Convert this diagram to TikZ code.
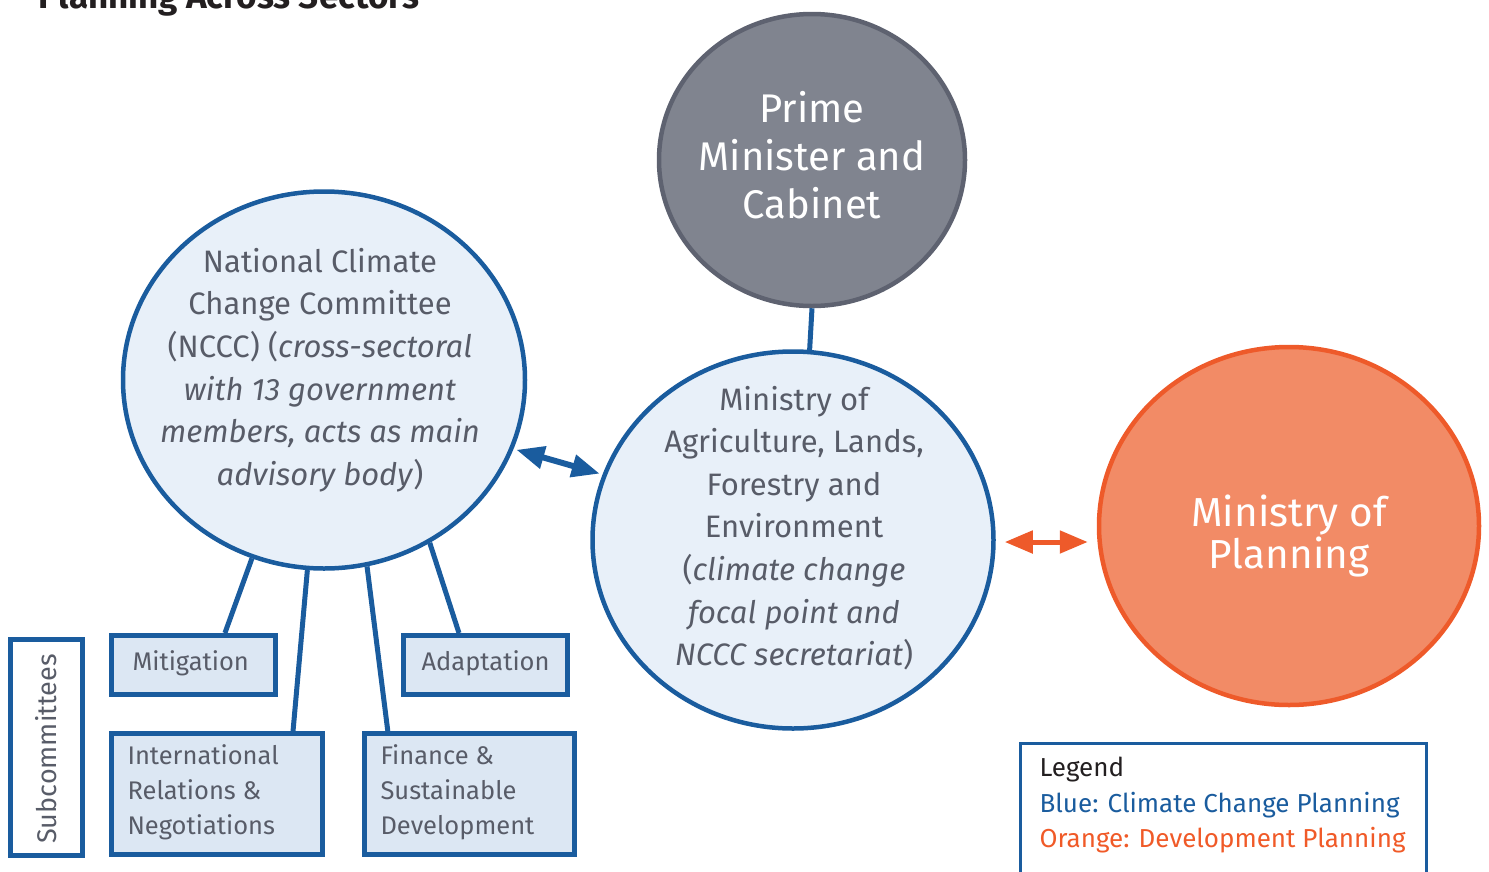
\documentclass[tikz,border=0pt]{standalone}
\usepackage{fontspec}
\setmainfont{Fira Sans}
\usetikzlibrary{shapes.geometric,arrows.meta,calc}
\definecolor{cblue}{RGB}{26,92,158}
\definecolor{cfill}{RGB}{232,240,249}
\definecolor{bfill}{RGB}{220,231,243}
\definecolor{tgray}{RGB}{88,92,104}
\definecolor{pmfill}{RGB}{128,132,143}
\definecolor{pmline}{RGB}{94,98,112}
\definecolor{ofill}{RGB}{242,139,102}
\definecolor{oline}{RGB}{238,90,42}
\definecolor{otext}{RGB}{240,90,40}
\definecolor{ttl}{RGB}{35,31,32}
\tikzset{
  bluecirc/.style={ellipse, draw=cblue, fill=cfill, line width=4.5pt, inner sep=0pt},
  subbox/.style={rectangle, draw=cblue, fill=bfill, line width=5pt, inner sep=0pt},
  link/.style={draw=cblue, line width=5pt},
  bigtxt/.style={text=tgray, align=center, font=\fontsize{31}{42.6}\selectfont},
  boxtxt/.style={text=tgray, align=left, anchor=west, font=\fontsize{25.5}{35}\selectfont},
  legtxt/.style={anchor=west, font=\fontsize{26}{35}\selectfont},
  barrow/.style={draw=cblue, line width=6pt, {Triangle[length=28pt,width=22pt]}-{Triangle[length=28pt,width=22pt]}},
  oarrow/.style={draw=oline, line width=5pt, {Triangle[length=28pt,width=22pt]}-{Triangle[length=28pt,width=22pt]}}
}
\begin{document}
\begin{tikzpicture}[x=1pt,y=-1pt]
\useasboundingbox (0,0) rectangle (1489,871);
% title (cut off, as in the reference)
\node[anchor=base west, inner sep=0pt, text=ttl, font=\fontsize{35}{40}\selectfont\bfseries] (title) at (38,8) {Planning Across Sectors};
% circles
\node[ellipse, draw=pmline, fill=pmfill, line width=4.5pt, minimum width=306pt, minimum height=292pt, inner sep=0pt] (pm) at (812,160) {};
\node[bluecirc, minimum width=402pt, minimum height=377pt] (nccc) at (324,380) {};
\node[bluecirc, minimum width=401pt, minimum height=377pt] (moa) at (793,540) {};
\node[ellipse, draw=oline, fill=ofill, line width=4.5pt, minimum width=380pt, minimum height=358pt, inner sep=0pt] (plan) at (1289,526) {};
% texts in circles
\node[text=white, align=center, font=\fontsize{40}{48}\selectfont] (pmtxt) at (812,155) {Prime\\Minister and\\Cabinet};
\node[bigtxt] (nccctxt) at (320,370) {National Climate\\Change Committee\\(NCCC) (\textit{cross-sectoral}\\\textit{with 13 government}\\\textit{members, acts as main}\\\textit{advisory body})};
\node[bigtxt] (moatxt) at (794,528) {Ministry of\\Agriculture, Lands,\\Forestry and\\Environment\\(\textit{climate change}\\\textit{focal point and}\\\textit{NCCC secretariat})};
\node[text=white, align=center, font=\fontsize{40.5}{42}\selectfont] (plantxt) at (1289,536) {Ministry of\\Planning};
% subcommittee boxes
\node[rectangle, draw=cblue, fill=white, line width=5pt, minimum width=72pt, minimum height=216pt, inner sep=0pt] (subc) at (46.5,747.5) {};
\node[text=tgray, rotate=90, font=\fontsize{27}{30}\selectfont] (subctxt) at (46,749) {Subcommittees};
\node[subbox, minimum width=164pt, minimum height=59pt] (mit) at (193.5,665) {};
\node[subbox, minimum width=164pt, minimum height=59pt] (ada) at (485.5,665) {};
\node[subbox, minimum width=211pt, minimum height=121pt] (intl) at (217,794) {};
\node[subbox, minimum width=210pt, minimum height=121pt] (fin) at (469.5,794) {};
\node[boxtxt] (mittxt) at (129,663) {Mitigation};
\node[boxtxt] (adatxt) at (418,663) {Adaptation};
\node[boxtxt] (intltxt) at (124,792) {International\\Relations \&\\Negotiations};
\node[boxtxt] (fintxt) at (377,792) {Finance \&\\Sustainable\\Development};
% connectors
\draw[link] (pm.south) -- (moa.85);
\draw[link] (nccc.248.7) -- ($(mit.north west)!0.686!(mit.north east)$);
\draw[link] (nccc.265.8) -- ($(intl.north west)!0.852!(intl.north east)$);
\draw[link] (nccc.283.2) -- ($(fin.north west)!0.12!(fin.north east)$);
\draw[link] (nccc.303.4) -- ($(ada.north west)!0.343!(ada.north east)$);
\draw[barrow, shorten <=3pt, shorten >=3pt] (nccc.340) -- (moa.161);
\draw[oarrow] ([xshift=9pt,yshift=-2pt]moa.east) -- ([xshift=-9pt,yshift=-2pt]moa.east -| plan.west);
% legend
\node[rectangle, draw=cblue, line width=2.5pt, minimum width=406pt, minimum height=160pt, anchor=north west, inner sep=0pt] (legend) at (1019,742) {};
\node[legtxt, text=ttl] (legt) at (1036,770) {Legend};
\node[legtxt, text=cblue] (legb) at (1036,805) {Blue: Climate Change Planning};
\node[legtxt, text=otext] (lego) at (1036,840) {Orange: Development Planning};
\end{tikzpicture}
\end{document}
